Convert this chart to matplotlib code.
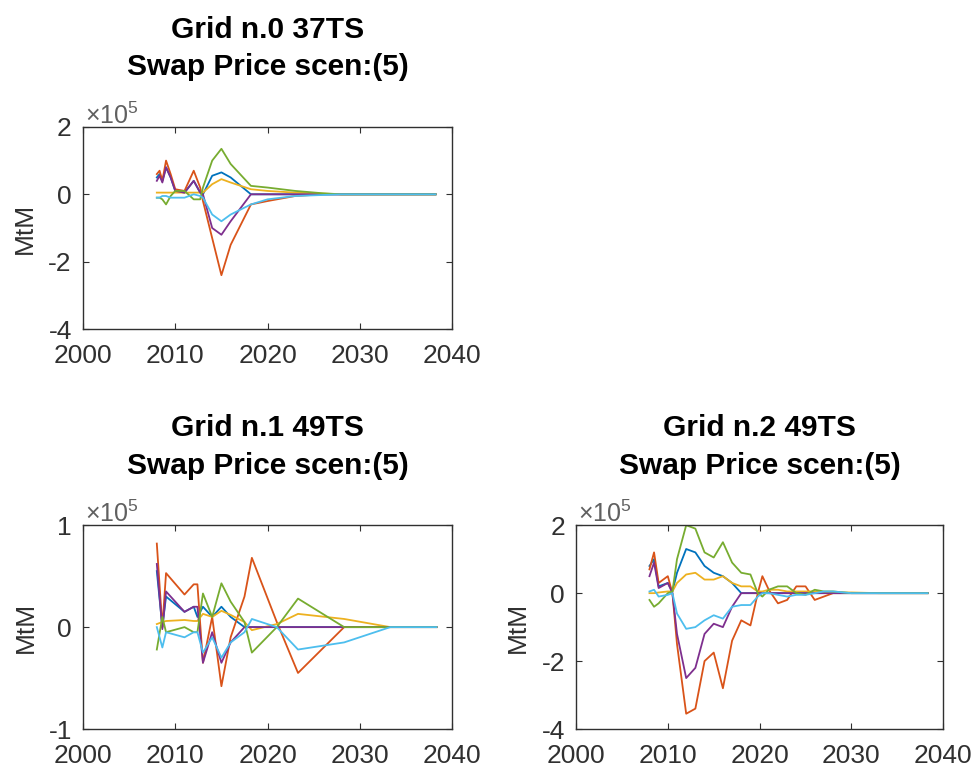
import numpy as np
import matplotlib
matplotlib.use('Agg')
import matplotlib.pyplot as plt
from matplotlib.ticker import FuncFormatter


# MATLAB default line colours
COLORS = ['#0072BD', '#D95319', '#EDB120', '#7E2F8E', '#77AC30', '#4DBEEE']
SCALE = 1e5

# Grid n.0 (values in units of 1e5)
g0_x = [2008, 2008.3, 2008.6, 2009, 2009.5, 2010, 2011, 2012, 2012.7, 2013,
        2014, 2015, 2016, 2018.2, 2020, 2023, 2026, 2028, 2033, 2038.2]
g0_blue   = [0.5, 0.6, 0.4, 0.8, 0.5, 0.1, 0.05, 0.4, 0.05, 0.0,
             0.55, 0.65, 0.5, 0.0, 0.0, 0.0, 0.0, 0.0, 0.0, 0.0]
g0_orange = [0.6, 0.7, 0.4, 1.0, 0.6, 0.15, 0.1, 0.7, 0.2, -0.2,
             -1.3, -2.4, -1.5, -0.3, -0.2, -0.05, 0.0, 0.0, 0.0, 0.0]
g0_yellow = [0.05, 0.05, 0.05, 0.05, 0.05, 0.05, 0.05, 0.05, 0.05, 0.05,
             0.3, 0.45, 0.35, 0.15, 0.1, 0.05, 0.02, 0.0, 0.0, 0.0]
g0_purple = [0.4, 0.55, 0.35, 0.8, 0.5, 0.1, 0.05, 0.4, 0.05, 0.0,
             -1.0, -1.2, -0.8, 0.0, 0.0, 0.0, 0.0, 0.0, 0.0, 0.0]
g0_green  = [-0.1, -0.1, -0.15, -0.3, -0.05, 0.1, 0.1, -0.15, -0.15, 0.2,
             1.0, 1.35, 0.9, 0.25, 0.2, 0.1, 0.03, 0.0, 0.0, 0.0]
g0_cyan   = [-0.1, -0.1, -0.05, -0.05, -0.1, -0.1, -0.1, 0.0, -0.05, -0.1,
             -0.6, -0.8, -0.6, -0.3, -0.15, -0.05, -0.02, 0.0, 0.0, 0.0]

# Grid n.1
g1_x = [2008, 2008.6, 2009, 2011, 2012, 2012.4, 2013, 2014, 2015, 2016,
        2017.5, 2018.3, 2021, 2023.3, 2028.3, 2033.3, 2038.3]
g1_blue   = [0.55, 0.0, 0.3, 0.15, 0.2, 0.1, 0.2, 0.1, 0.2, 0.1,
             0.0, 0.0, 0.0, 0.0, 0.0, 0.0, 0.0]
g1_orange = [0.82, 0.0, 0.53, 0.32, 0.42, 0.42, -0.35, 0.1, -0.58, -0.1,
             0.3, 0.68, 0.05, -0.45, 0.0, 0.0, 0.0]
g1_yellow = [0.03, 0.05, 0.06, 0.07, 0.06, 0.06, 0.13, 0.1, 0.16, 0.12,
             0.05, -0.03, 0.03, 0.13, 0.08, 0.0, 0.0]
g1_purple = [0.62, -0.02, 0.35, 0.15, 0.2, 0.2, -0.35, -0.05, -0.35, -0.15,
             0.0, 0.0, 0.0, 0.0, 0.0, 0.0, 0.0]
g1_green  = [-0.22, 0.1, -0.05, 0.0, -0.05, -0.05, 0.33, 0.1, 0.43, 0.25,
             0.05, -0.25, 0.0, 0.28, 0.0, 0.0, 0.0]
g1_cyan   = [0.0, -0.2, -0.05, -0.1, -0.05, -0.05, -0.25, -0.1, -0.3, -0.15,
             -0.05, 0.08, 0.0, -0.22, -0.15, 0.0, 0.0]

# Grid n.2
g2_x = [2008, 2008.5, 2009, 2010, 2010.5, 2011, 2012, 2013, 2014, 2015,
        2016, 2017, 2018, 2019, 2019.8, 2020.3, 2021, 2022, 2023, 2024,
        2025, 2026, 2027, 2028, 2030, 2033, 2038.3]
g2_blue   = [0.8, 1.0, 0.2, 0.3, 0.05, 0.6, 1.3, 1.2, 0.8, 0.6,
             0.5, 0.3, 0.0, 0.0, 0.0, 0.0, 0.0, 0.0, 0.0, 0.0,
             0.0, 0.0, 0.0, 0.0, 0.0, 0.0, 0.0]
g2_orange = [0.7, 1.2, 0.3, 0.5, 0.0, -1.5, -3.55, -3.4, -2.0, -1.75,
             -2.8, -1.4, -0.8, -0.95, 0.0, 0.5, 0.1, -0.3, -0.2, 0.2,
             0.2, -0.2, -0.1, 0.0, 0.0, 0.0, 0.0]
g2_yellow = [0.0, 0.0, 0.02, 0.05, 0.05, 0.3, 0.55, 0.6, 0.4, 0.4,
             0.5, 0.3, 0.2, 0.2, 0.05, 0.05, 0.1, 0.1, 0.05, 0.05,
             0.05, 0.05, 0.03, 0.02, 0.02, 0.0, 0.0]
g2_purple = [0.5, 0.9, 0.15, 0.3, 0.0, -1.2, -2.5, -2.2, -1.2, -0.9,
             -1.0, -0.4, 0.0, 0.0, 0.0, 0.0, 0.0, 0.0, 0.0, 0.0,
             0.0, 0.0, 0.0, 0.0, 0.0, 0.0, 0.0]
g2_green  = [-0.2, -0.4, -0.3, 0.0, 0.05, 1.0, 2.0, 1.9, 1.2, 1.05,
             1.5, 0.9, 0.6, 0.55, 0.0, -0.1, 0.1, 0.2, 0.2, 0.0,
             -0.05, 0.1, 0.05, 0.05, 0.0, 0.0, 0.0]
g2_cyan   = [0.05, 0.1, -0.1, -0.05, 0.0, -0.6, -1.05, -1.0, -0.8, -0.65,
             -0.75, -0.4, -0.35, -0.35, -0.1, 0.0, 0.0, -0.05, -0.1, -0.05,
             -0.05, 0.0, 0.05, 0.05, 0.0, 0.0, 0.0]

GRIDS = [
    ('Grid n.0 37TS', g0_x, [g0_blue, g0_orange, g0_yellow, g0_purple, g0_green, g0_cyan], (-4, 2), [-4, -2, 0, 2]),
    ('Grid n.1 49TS', g1_x, [g1_blue, g1_orange, g1_yellow, g1_purple, g1_green, g1_cyan], (-1, 1), [-1, 0, 1]),
    ('Grid n.2 49TS', g2_x, [g2_blue, g2_orange, g2_yellow, g2_purple, g2_green, g2_cyan], (-4, 2), [-4, -2, 0, 2]),
]
# axes rectangles in figure fraction
RECTS = [
    [0.0852, 0.572, 0.379, 0.263],
    [0.0852, 0.052, 0.379, 0.265],
    [0.5914, 0.052, 0.377, 0.265],
]

plt.rcParams['font.family'] = ['Liberation Sans', 'DejaVu Sans']
plt.rcParams['mathtext.fontset'] = 'custom'
plt.rcParams['mathtext.rm'] = 'Liberation Sans'
plt.rcParams['axes.unicode_minus'] = False
TXT = '#303030'
FS = 19

fig = plt.figure(figsize=(9.74, 7.69), dpi=100)

for (title, x, series, ylim, yticks), rect in zip(GRIDS, RECTS):
    ax = fig.add_axes(rect)
    for y, c in zip(series, COLORS):
        ax.plot(x, np.array(y) * SCALE, color=c, lw=1.3)
    ax.set_xlim(2000, 2040)
    ax.set_ylim(ylim[0] * SCALE, ylim[1] * SCALE)
    ax.set_xticks([2000, 2010, 2020, 2030, 2040])
    ax.set_yticks([t * SCALE for t in yticks])
    ax.yaxis.set_major_formatter(FuncFormatter(lambda v, p: f'{v / SCALE:g}'))
    ax.text(0.005, 0.99, r'$\times10^{5}$', transform=ax.transAxes,
            fontsize=FS - 1, color='#606060', ha='left', va='bottom')
    ax.tick_params(direction='in', top=True, right=True, labelsize=FS,
                   colors=TXT, length=4, width=0.8)
    ax.tick_params(axis='x', pad=11)
    ax.tick_params(axis='y', pad=8)
    for sp in ax.spines.values():
        sp.set_color(TXT)
        sp.set_linewidth(1.0)
    ax.set_ylabel('MtM', fontsize=FS, color=TXT, labelpad=8)
    ax.set_title(title + '\nSwap Price scen:(5)', fontsize=21.5, fontweight='bold',
                 color='black', pad=37, linespacing=1.45)

fig.savefig('out.png', dpi=100)
